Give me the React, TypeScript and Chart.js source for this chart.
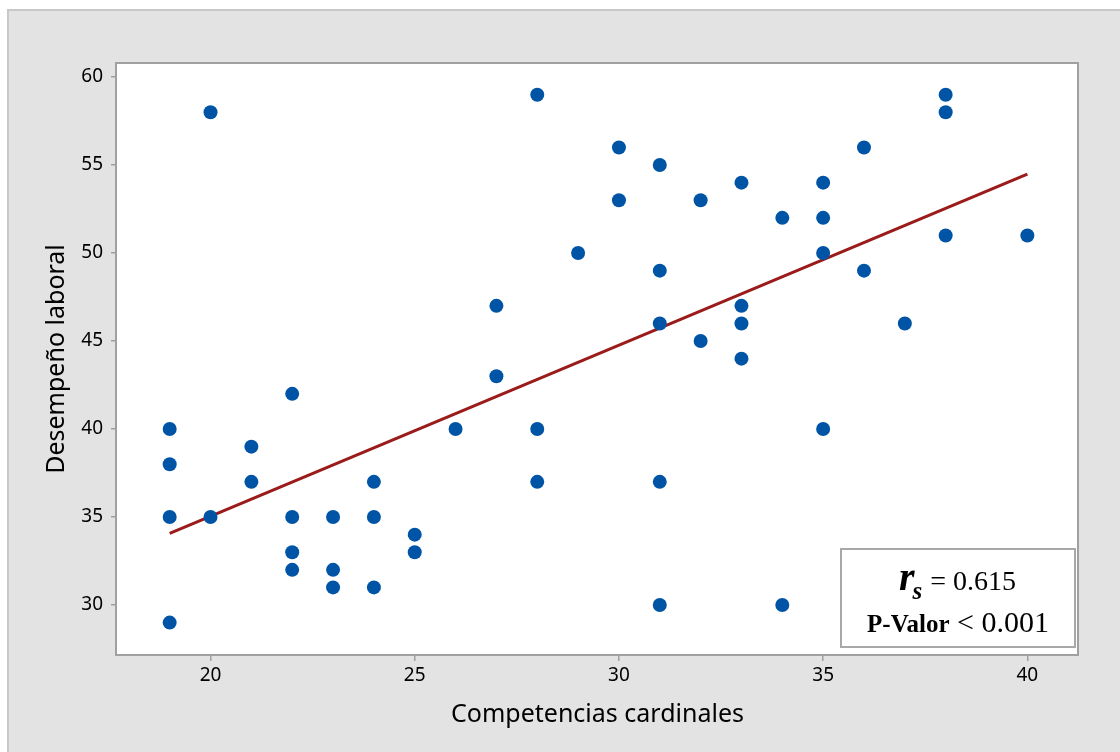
import React, { useEffect, useRef } from "react";
import { Chart, registerables } from "chart.js";

Chart.register(...registerables);

// Competencias cardinales (x) and Desempeño laboral (y)
const xValues = [
  19, 19, 19, 19,
  20, 20,
  21, 21,
  22, 22, 22, 22,
  23, 23, 23,
  24, 24, 24,
  25, 25,
  26,
  27, 27,
  28, 28, 28,
  29,
  30, 30,
  31, 31, 31, 31, 31,
  32, 32,
  33, 33, 33, 33,
  34, 34,
  35, 35, 35, 35,
  36, 36,
  37,
  38, 38, 38,
  40,
];
const yValues = [
  40, 38, 35, 29,
  58, 35,
  39, 37,
  42, 35, 33, 32,
  35, 32, 31,
  37, 35, 31,
  34, 33,
  40,
  47, 43,
  59, 40, 37,
  50,
  56, 53,
  55, 49, 46, 37, 30,
  53, 45,
  54, 47, 46, 44,
  52, 30,
  54, 52, 50, 40,
  56, 49,
  46,
  59, 58, 51,
  51,
];

// fitted line end points
const fitX = [19, 40];
const fitY = [34.07, 54.49];

const xTicks = [20, 25, 30, 35, 40];
const yTicks = [30, 35, 40, 45, 50, 55, 60];

const xTitle = "Competencias cardinales";
const yTitle = "Desempeño laboral";
const rsValue = "0.615";
const pText = "< 0.001";

const W = 1111;
const H = 741;

export default function App() {
  const ref = useRef<HTMLCanvasElement | null>(null);

  useEffect(() => {
    if (!ref.current) return;

    const framePlugin = {
      id: "frame",
      beforeDraw(chart: any) {
        const { ctx, chartArea: a } = chart;
        ctx.save();
        ctx.fillStyle = "#ffffff";
        ctx.fillRect(a.left, a.top, a.right - a.left, a.bottom - a.top);
        ctx.restore();
      },
      afterDraw(chart: any) {
        const { ctx, chartArea: a } = chart;
        ctx.save();
        ctx.strokeStyle = "#a0a0a0";
        ctx.lineWidth = 2;
        ctx.strokeRect(a.left - 1, a.top, a.right - a.left + 1, a.bottom - a.top);

        // annotation box
        const bw = 236;
        const bh = 100;
        const bx = a.right - 2 - bw;
        const by = a.bottom - 7 - bh;
        ctx.fillStyle = "#ffffff";
        ctx.fillRect(bx, by, bw, bh);
        ctx.strokeStyle = "#a8a8a8";
        ctx.lineWidth = 2;
        ctx.strokeRect(bx + 1, by + 1, bw - 2, bh - 2);

        ctx.fillStyle = "#000000";
        ctx.textBaseline = "alphabetic";
        ctx.textAlign = "left";
        // line 1
        const fR = "italic bold 40px 'Liberation Serif', serif";
        const fS = "italic bold 25px 'Liberation Serif', serif";
        const fN = "28px 'Liberation Serif', serif";
        ctx.font = fR;
        const wR = ctx.measureText("r").width;
        ctx.font = fS;
        const wS = ctx.measureText("s").width;
        ctx.font = fN;
        const rest = " = " + rsValue;
        const wRest = ctx.measureText(rest).width;
        const tot1 = wR + wS + wRest;
        let x1 = bx + bw / 2 - tot1 / 2;
        const b1 = by + 42;
        ctx.font = fR;
        ctx.fillText("r", x1, b1);
        x1 += wR - 2;
        ctx.font = fS;
        ctx.fillText("s", x1, b1 + 9);
        x1 += wS + 1;
        ctx.font = fN;
        ctx.fillText(rest, x1, b1);

        // line 2
        const fP = "bold 25px 'Liberation Serif', serif";
        const fV = "30px 'Liberation Serif', serif";
        ctx.font = fP;
        const wP = ctx.measureText("P-Valor").width;
        ctx.font = fV;
        const v = " " + pText;
        const wV = ctx.measureText(v).width;
        let x2 = bx + bw / 2 - (wP + wV) / 2;
        const b2 = by + 84;
        ctx.font = fP;
        ctx.fillText("P-Valor", x2, b2);
        ctx.font = fV;
        ctx.fillText(v, x2 + wP, b2);
        ctx.restore();
      },
    };

    const points = xValues.map((x, i) => ({ x, y: yValues[i] }));
    const fit = fitX.map((x, i) => ({ x, y: fitY[i] }));

    const chart = new Chart(ref.current, {
      type: "scatter",
      data: {
        datasets: [
          {
            type: "scatter",
            data: points,
            backgroundColor: "#0054a6",
            borderColor: "#0054a6",
            pointRadius: 7,
            pointHoverRadius: 7,
            borderWidth: 0,
            order: 0,
          },
          {
            type: "line",
            data: fit,
            borderColor: "#9b1b1b",
            borderWidth: 3,
            pointRadius: 0,
            fill: false,
            order: 1,
          } as any,
        ],
      },
      options: {
        animation: false,
        responsive: false,
        devicePixelRatio: 1,
        layout: { padding: { left: 0, top: 52, right: 42, bottom: 0 } },
        plugins: {
          legend: { display: false },
          tooltip: { enabled: false },
        },
        scales: {
          x: {
            type: "linear",
            min: 17.71,
            max: 41.24,
            afterBuildTicks: (s: any) => {
              s.ticks = xTicks.map((v) => ({ value: v }));
            },
            afterFit: (s: any) => {
              s.height = 97;
            },
            border: { display: false },
            grid: {
              drawOnChartArea: false,
              drawTicks: true,
              tickLength: 6,
              color: "#a0a0a0",
              lineWidth: 1.5,
            },
            ticks: {
              color: "#000000",
              padding: 3,
              font: { family: "'Noto Sans', sans-serif", size: 19 },
              maxRotation: 0,
            },
            title: {
              display: true,
              text: xTitle,
              color: "#000000",
              font: { family: "'Noto Sans', sans-serif", size: 25 },
              padding: { top: 0, bottom: 22 },
            },
          },
          y: {
            type: "linear",
            min: 27.16,
            max: 60.8,
            afterBuildTicks: (s: any) => {
              s.ticks = yTicks.map((v) => ({ value: v }));
            },
            afterFit: (s: any) => {
              s.width = 108;
            },
            border: { display: false },
            grid: {
              drawOnChartArea: false,
              drawTicks: true,
              tickLength: 6,
              color: "#a0a0a0",
              lineWidth: 1.5,
            },
            ticks: {
              color: "#000000",
              padding: 8,
              font: { family: "'Noto Sans', sans-serif", size: 19 },
            },
            title: {
              display: true,
              text: yTitle,
              color: "#000000",
              font: { family: "'Noto Sans', sans-serif", size: 25 },
              padding: { top: 33, bottom: 0 },
            },
          },
        },
      },
      plugins: [framePlugin],
    });

    return () => chart.destroy();
  }, []);

  return (
    <div
      style={{
        position: "absolute",
        left: 7,
        top: 9,
        width: 1113,
        height: 743,
        boxSizing: "border-box",
        borderLeft: "2px solid #c8c8c8",
        borderTop: "2px solid #c8c8c8",
        background: "#e3e3e3",
        overflow: "hidden",
      }}
    >
      <canvas ref={ref} width={W} height={H} style={{ display: "block", width: W, height: H }} />
    </div>
  );
}
